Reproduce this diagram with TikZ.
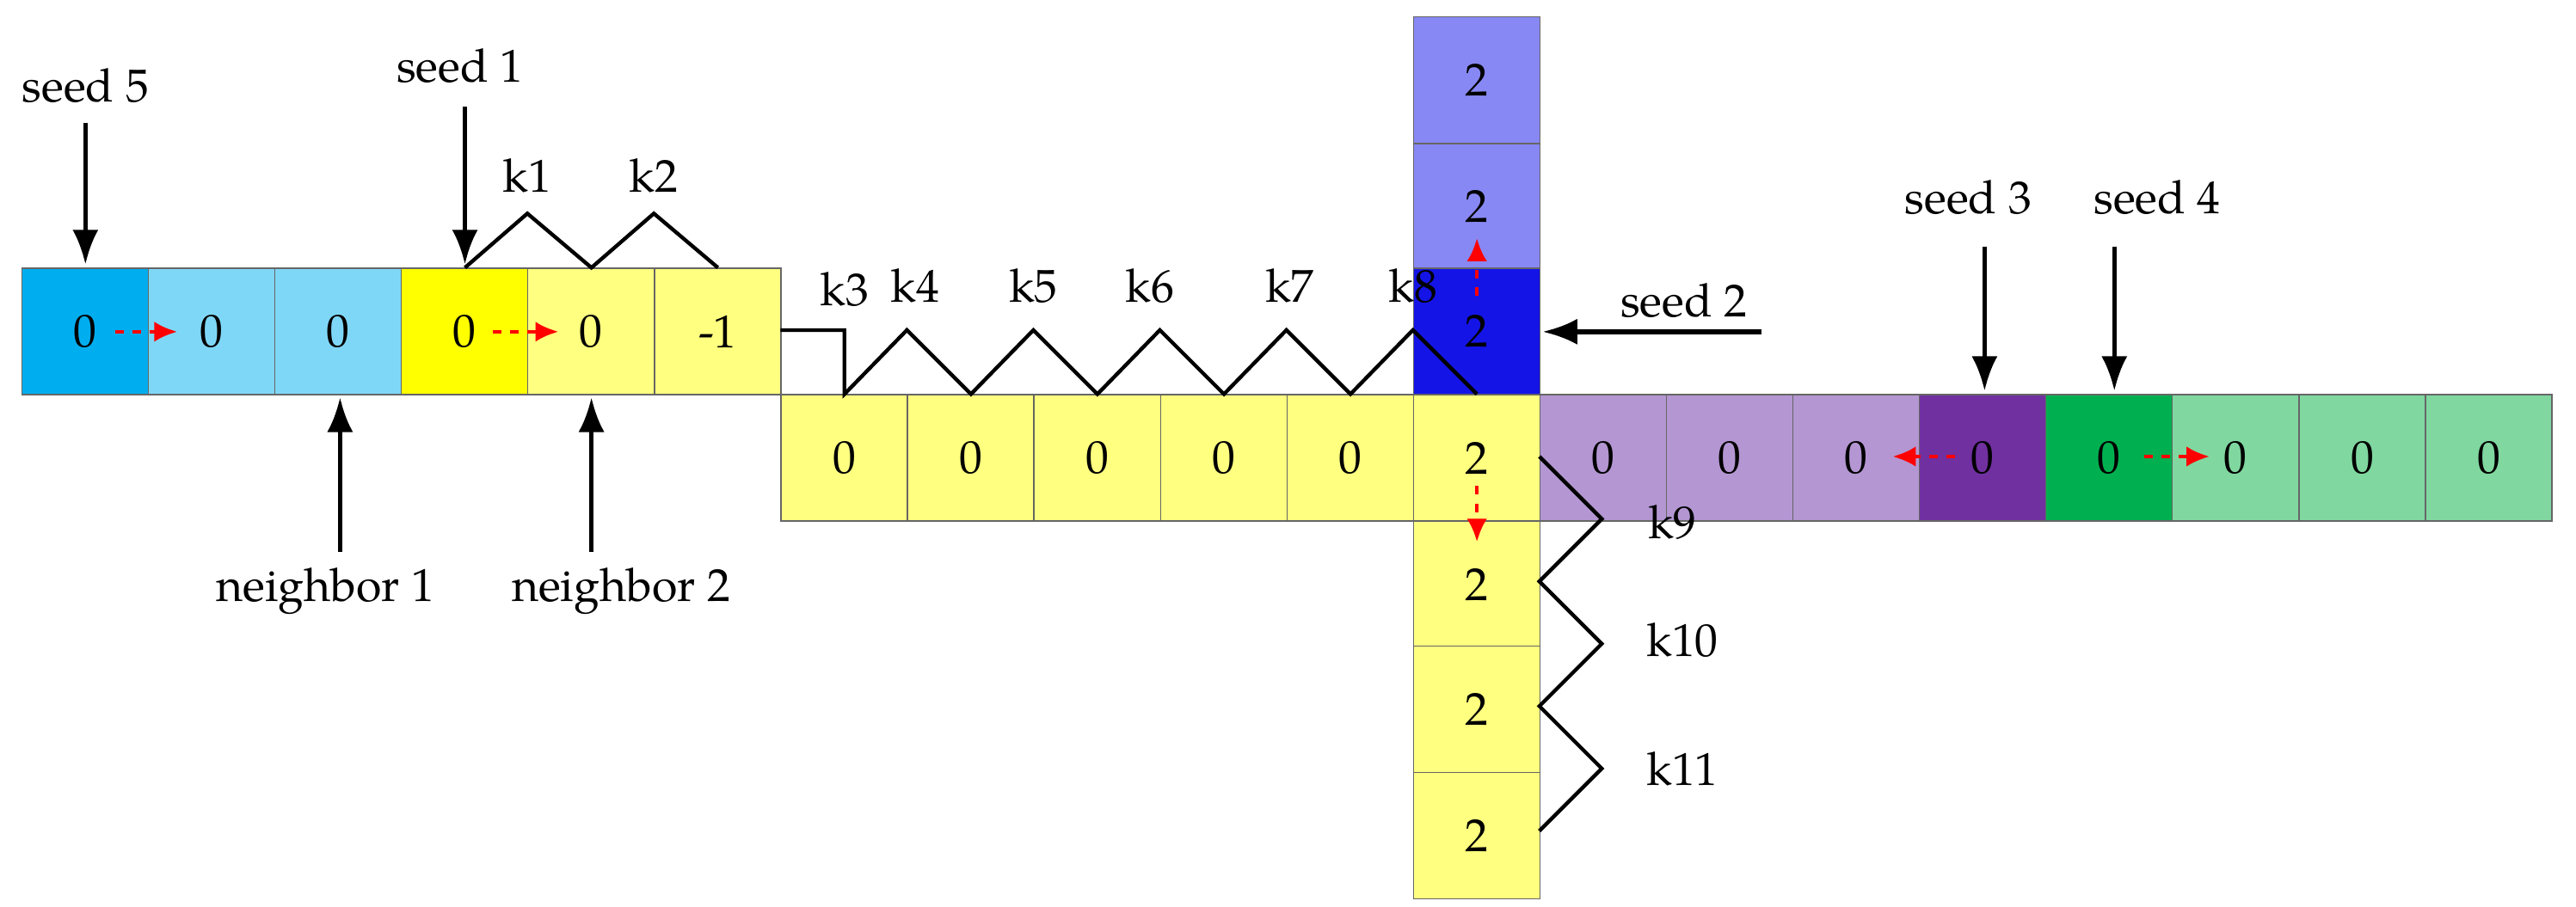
\documentclass[tikz,border=0pt]{standalone}
\usepackage{fontspec}
\setmainfont{TeX Gyre Pagella}
\usetikzlibrary{arrows.meta}
\definecolor{cA}{RGB}{0,174,239}
\definecolor{cB}{RGB}{127,215,247}
\definecolor{cY}{RGB}{255,255,0}
\definecolor{cLY}{RGB}{255,255,128}
\definecolor{cLB}{RGB}{136,136,245}
\definecolor{cDB}{RGB}{20,20,230}
\definecolor{cLP}{RGB}{180,150,210}
\definecolor{cDP}{RGB}{112,48,160}
\definecolor{cG}{RGB}{0,176,80}
\definecolor{cLG}{RGB}{128,215,160}
\begin{document}
\begin{tikzpicture}[x=0.02cm,y=-0.02cm,
  cell/.style={draw=black!60,line width=0.4pt,minimum width=1.54cm,minimum height=1.54cm,inner sep=0,anchor=north west,font=\fontsize{16}{18}\selectfont},
  lbl/.style={font=\fontsize{16}{18}\selectfont,inner sep=1pt},
  ar/.style={-{Latex[length=12pt,width=9pt]},line width=1.6pt},
  rd/.style={-{Latex[length=8pt,width=7pt]},red,dashed,line width=1.3pt},
  zz/.style={line width=1.3pt,line join=miter}]
\useasboundingbox (0,0) rectangle (1568,552);
% row 1
\node[cell,fill=cA] (r1) at (13,163) {0};
\node[cell,fill=cB] (r2) at (90,163) {0};
\node[cell,fill=cB] (r3) at (167,163) {0};
\node[cell,fill=cY] (r4) at (244,163) {0};
\node[cell,fill=cLY] (r5) at (321,163) {0};
\node[cell,fill=cLY] (r6) at (398,163) {-1};
% row 2
\foreach \i in {0,...,4} \node[cell,fill=cLY] (s\i) at (475+77*\i,240) {0};
\node[cell,fill=cLY] (s5) at (860,240) {2};
\node[cell,fill=cLP] (s6) at (937,240) {0};
\node[cell,fill=cLP] (s7) at (1014,240) {0};
\node[cell,fill=cLP] (s8) at (1091,240) {0};
\node[cell,fill=cDP] (s9) at (1168,240) {0};
\node[cell,fill=cG] (s10) at (1245,240) {0};
\node[cell,fill=cLG] (s11) at (1322,240) {0};
\node[cell,fill=cLG] (s12) at (1399,240) {0};
\node[cell,fill=cLG] (s13) at (1476,240) {0};
% column
\node[cell,fill=cLB] (c1) at (860,10) {2};
\node[cell,fill=cLB] (c2) at (860,87) {2};
\node[cell,fill=cDB] (c3) at (860,163) {2};
\node[cell,fill=cLY] (c5) at (860,317) {2};
\node[cell,fill=cLY] (c6) at (860,393) {2};
\node[cell,fill=cLY] (c7) at (860,470) {2};
% labels and arrows
\node[lbl] (l5) at (52,52) {seed 5};
\node[lbl] (l1) at (280,40) {seed 1};
\node[lbl] (n1) at (198,360) {neighbor 1};
\node[lbl] (n2) at (378,360) {neighbor 2};
\node[lbl] (l2) at (1025,183) {seed 2};
\node[lbl] (l3) at (1198,120) {seed 3};
\node[lbl] (l4) at (1313,120) {seed 4};
\coordinate (a5) at (52,75); \coordinate (b5) at (52,161);
\coordinate (a1) at (283,65); \coordinate (b1) at (283,161);
\coordinate (an1) at (207,336); \coordinate (bn1) at (207,242);
\coordinate (an2) at (360,336); \coordinate (bn2) at (360,242);
\coordinate (a2) at (1072,202); \coordinate (b2) at (939,202);
\coordinate (a3) at (1208,150); \coordinate (b3) at (1208,238);
\coordinate (a4) at (1287,150); \coordinate (b4) at (1287,238);
\draw[ar] (a5) -- (b5);
\draw[ar] (a1) -- (b1);
\draw[ar] (an1) -- (bn1);
\draw[ar] (an2) -- (bn2);
\draw[ar] (a2) -- (b2);
\draw[ar] (a3) -- (b3);
\draw[ar] (a4) -- (b4);
% red dashed
\draw[rd] (70,202) -- (108,202);
\draw[rd] (300,202) -- (340,202);
\draw[rd] (899,180) -- (899,145);
\draw[rd] (899,296) -- (899,330);
\draw[rd] (1190,278) -- (1152,278);
\draw[rd] (1305,278) -- (1345,278);
% zigzags
\draw[zz] (283,163) -- (321,130) -- (360,163) -- (398,130) -- (437,163);
\node[lbl] (k1) at (321,107) {k1};
\node[lbl] (k2) at (398,107) {k2};
\draw[zz] (475,201) -- (514,201) -- (514,240) -- (552,201) -- (591,240) -- (629,201) -- (668,240) -- (706,201) -- (745,240) -- (783,201) -- (822,240) -- (860,201) -- (899,240);
\node[lbl] (k3) at (514,176) {k3};
\node[lbl] (k4) at (557,174) {k4};
\node[lbl] (k5) at (629,174) {k5};
\node[lbl] (k6) at (700,174) {k6};
\node[lbl] (k7) at (785,174) {k7};
\node[lbl] (k8) at (860,174) {k8};
\draw[zz] (937,278) -- (975,316) -- (937,354) -- (975,392) -- (937,430) -- (975,468) -- (937,506);
\node[lbl] (k9) at (1018,318) {k9};
\node[lbl] (k10) at (1024,390) {k10};
\node[lbl] (k11) at (1024,468) {k11};
\end{tikzpicture}
\end{document}
